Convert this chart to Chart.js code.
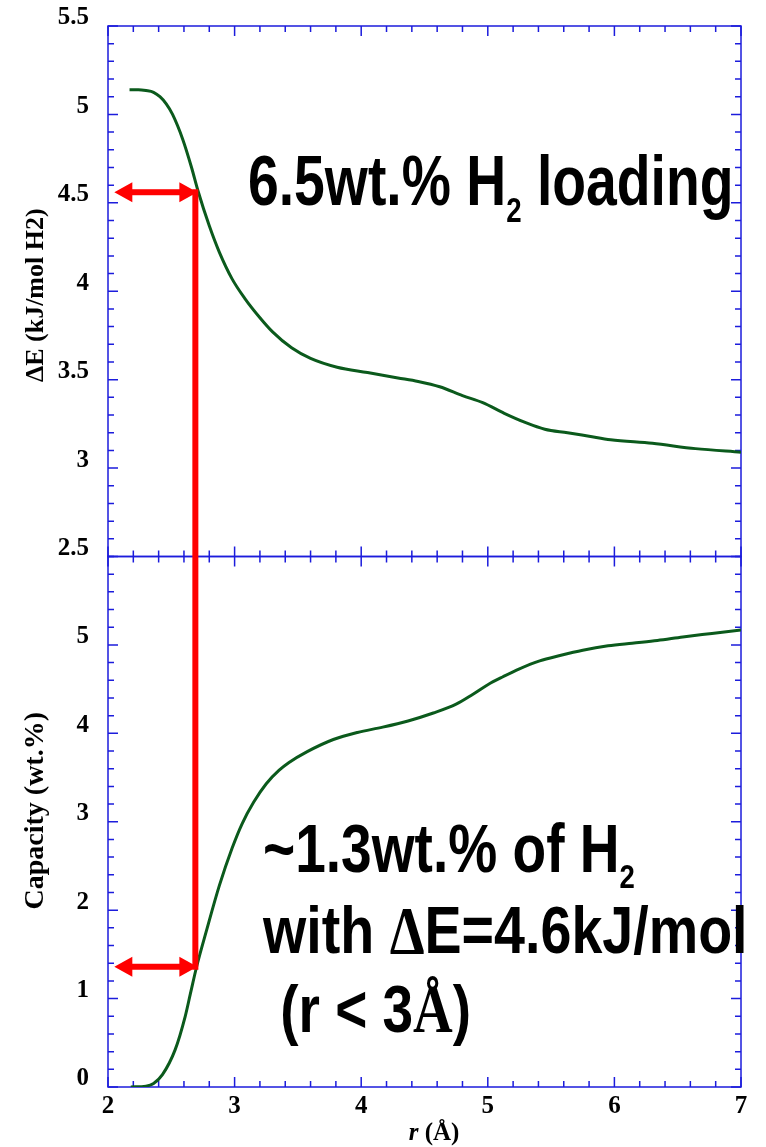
<!DOCTYPE html>
<html>
<head>
<meta charset="utf-8">
<script src="https://cdn.jsdelivr.net/npm/chart.js@4.4.1/dist/chart.umd.min.js"></script>
<style>
    html, body { margin: 0; padding: 0; background: #fff; }
    #wrap { width: 766px; height: 1147px; }
</style>
</head>
<body>
<div id="wrap"><canvas id="chart" width="766" height="1147"></canvas></div>
<script>
// Upper panel: binding energy vs r
const rEnergy = [2.17, 2.24, 2.30, 2.36, 2.41, 2.46, 2.51, 2.59, 2.66, 2.71, 2.80, 2.88, 2.98, 3.08, 3.20, 3.30, 3.45, 3.60, 3.81, 4.05, 4.29, 4.45, 4.62, 4.80, 4.96, 5.13, 5.29, 5.45, 5.63, 5.80, 5.97, 6.30, 6.64, 7.00];
const energy = [5.14, 5.14, 5.135, 5.125, 5.10, 5.06, 5.00, 4.86, 4.70, 4.57, 4.37, 4.22, 4.07, 3.96, 3.85, 3.77, 3.68, 3.62, 3.57, 3.54, 3.51, 3.49, 3.46, 3.41, 3.37, 3.31, 3.26, 3.22, 3.20, 3.18, 3.16, 3.14, 3.11, 3.09];

// Lower panel: capacity vs r
const rCapacity = [2.18, 2.30, 2.36, 2.43, 2.53, 2.61, 2.65, 2.70, 2.78, 2.88, 2.98, 3.06, 3.15, 3.25, 3.35, 3.43, 3.57, 3.78, 3.97, 4.17, 4.37, 4.57, 4.75, 4.88, 5.00, 5.12, 5.25, 5.41, 5.57, 5.75, 5.95, 6.14, 6.34, 6.54, 6.77, 7.00];
const capacity = [0.00, 0.01, 0.04, 0.14, 0.42, 0.80, 1.05, 1.36, 1.78, 2.28, 2.70, 2.98, 3.22, 3.43, 3.58, 3.67, 3.79, 3.93, 4.01, 4.07, 4.14, 4.23, 4.33, 4.44, 4.55, 4.64, 4.73, 4.82, 4.88, 4.94, 4.99, 5.02, 5.05, 5.09, 5.13, 5.17];

// Tick labels
const xLabels = [2, 3, 4, 5, 6, 7];
const energyLabels = [2.5, 3, 3.5, 4, 4.5, 5, 5.5];
const capacityLabels = [0, 1, 2, 3, 4, 5];

// Marked point (r, energy, capacity) and arrow start
const markR = 2.69;
const markEnergy = 4.56;
const markCapacity = 1.36;
const arrowStartR = 2.05;

const SANS = '"Liberation Sans", Arial, sans-serif';
const SERIF = '"Liberation Serif", "Times New Roman", serif';
const FRAME = "#1c1cdc";
const GREEN = "#0b5a1c";
const RED = "#ff0000";

function hasLabel(list, v) {
    return list.some((t) => Math.abs(t - v) < 1e-6);
}

function drawRuns(ctx, x, y, runs, sx) {
    ctx.save();
    ctx.translate(x, y);
    ctx.scale(sx, 1);
    ctx.fillStyle = "#000";
    ctx.textAlign = "left";
    ctx.textBaseline = "alphabetic";
    let cx = 0;
    runs.forEach((r) => {
        ctx.font = r.font;
        ctx.fillText(r.text, cx, r.dy || 0);
        cx += ctx.measureText(r.text).width;
    });
    ctx.restore();
}

function runsWidth(ctx, runs) {
    let w = 0;
    runs.forEach((r) => {
        ctx.font = r.font;
        w += ctx.measureText(r.text).width;
    });
    return w;
}

function drawDoubleArrow(ctx, x1, x2, y) {
    const head = 18;
    const half = 10;
    ctx.fillStyle = RED;
    ctx.fillRect(x1 + head - 1, y - 3, x2 - x1 - 2 * head + 2, 6);
    ctx.beginPath();
    ctx.moveTo(x1, y);
    ctx.lineTo(x1 + head, y - half);
    ctx.lineTo(x1 + head, y + half);
    ctx.closePath();
    ctx.moveTo(x2, y);
    ctx.lineTo(x2 - head, y - half);
    ctx.lineTo(x2 - head, y + half);
    ctx.closePath();
    ctx.fill();
}

// Box with inward ticks on every side of both panels
const frame = {
    id: "frame",
    beforeDatasetsDraw(chart) {
        const { ctx } = chart;
        const { x, yTop, yBot } = chart.scales;
        ctx.save();
        ctx.strokeStyle = FRAME;
        ctx.lineWidth = 1.5;
        [[yTop, energyLabels], [yBot, capacityLabels]].forEach(([y, labels]) => {
            ctx.strokeRect(x.left, y.top, x.right - x.left, y.bottom - y.top);
            ctx.beginPath();
            y.ticks.forEach((t) => {
                const p = y.getPixelForValue(t.value);
                const len = hasLabel(labels, t.value) ? 10 : 6;
                ctx.moveTo(x.left, p);
                ctx.lineTo(x.left + len, p);
                ctx.moveTo(x.right, p);
                ctx.lineTo(x.right - len, p);
            });
            x.ticks.forEach((t) => {
                const p = x.getPixelForValue(t.value);
                const len = hasLabel(xLabels, t.value) ? 10 : 6;
                ctx.moveTo(p, y.top);
                ctx.lineTo(p, y.top + len);
                ctx.moveTo(p, y.bottom);
                ctx.lineTo(p, y.bottom - len);
            });
            ctx.stroke();
        });
        ctx.restore();
    },
};

// Red markers, notes and axis titles
const notes = {
    id: "notes",
    afterDatasetsDraw(chart) {
        const { ctx } = chart;
        const { x, yTop, yBot } = chart.scales;
        const px = x.getPixelForValue(markR);
        const pTop = yTop.getPixelForValue(markEnergy);
        const pBot = yBot.getPixelForValue(markCapacity);
        const pStart = x.getPixelForValue(arrowStartR);

        ctx.save();
        ctx.fillStyle = RED;
        ctx.fillRect(px - 3, pTop - 3, 6, pBot - pTop + 6);
        drawDoubleArrow(ctx, pStart, px + 2, pTop);
        drawDoubleArrow(ctx, pStart, px + 2, pBot);

        drawRuns(ctx, 248, 205, [
            { text: "6.5wt.% H", font: `bold 70px ${SANS}` },
            { text: "2", font: `bold 35px ${SANS}`, dy: 17 },
            { text: " loading", font: `bold 70px ${SANS}` },
        ], 0.79);

        drawRuns(ctx, 263, 872, [
            { text: "~1.3wt.% of H", font: `bold 68px ${SANS}` },
            { text: "2", font: `bold 34px ${SANS}`, dy: 16 },
        ], 0.81);
        drawRuns(ctx, 263, 953, [
            { text: "with ", font: `bold 67px ${SANS}` },
            { text: "\u0394", font: `bold 67px ${SERIF}` },
            { text: "E=4.6kJ/mol", font: `bold 67px ${SANS}` },
        ], 0.83);
        drawRuns(ctx, 265, 1032, [
            { text: " (r < 3", font: `bold 67px ${SANS}` },
            { text: "\u00c5", font: `bold 67px ${SERIF}` },
            { text: ")", font: `bold 67px ${SANS}` },
        ], 0.82);

        // x title
        const xRuns = [
            { text: "r", font: `italic bold 25px ${SERIF}` },
            { text: " (\u00c5)", font: `bold 25px ${SERIF}` },
        ];
        drawRuns(ctx, 434 - runsWidth(ctx, xRuns) / 2, 1140, xRuns, 1);

        // y titles
        [["\u0394E (kJ/mol H2)", 26, (yTop.top + yTop.bottom) / 2 + 4],
         ["Capacity (wt.%)", 28, (yBot.top + yBot.bottom) / 2 - 11]].forEach(([text, size, cy]) => {
            ctx.save();
            ctx.translate(36, cy);
            ctx.rotate(-Math.PI / 2);
            ctx.font = `bold ${size}px ${SERIF}`;
            ctx.fillStyle = "#000";
            ctx.textAlign = "center";
            ctx.textBaseline = "middle";
            ctx.fillText(text, 0, 0);
            ctx.restore();
        });
        ctx.restore();
    },
};

const tickFont = { family: '"Liberation Serif", "Times New Roman", serif', weight: "bold", size: 25 };

const yScale = (min, max, step, labels) => ({
    type: "linear",
    position: "left",
    stack: "panels",
    stackWeight: 1,
    min,
    max,
    grid: { display: false },
    border: { display: false },
    ticks: {
        stepSize: step,
        autoSkip: false,
        padding: 11,
        labelOffset: -8,
        color: "#000",
        font: tickFont,
        callback: (v) => (hasLabel(labels, v) ? String(Math.round(v * 10) / 10) : ""),
    },
    afterFit(scale) {
        scale.width = 108;
    },
});

new Chart(document.getElementById("chart").getContext("2d"), {
    type: "line",
    data: {
        datasets: [
            {
                data: rEnergy.map((r, i) => ({ x: r, y: energy[i] })),
                yAxisID: "yTop",
                borderColor: GREEN,
                borderWidth: 3,
                pointRadius: 0,
                cubicInterpolationMode: "monotone",
            },
            {
                data: rCapacity.map((r, i) => ({ x: r, y: capacity[i] })),
                yAxisID: "yBot",
                borderColor: GREEN,
                borderWidth: 3,
                pointRadius: 0,
                cubicInterpolationMode: "monotone",
            },
        ],
    },
    options: {
        responsive: false,
        animation: false,
        layout: { padding: { top: 25, right: 25, left: 0, bottom: 0 } },
        plugins: { legend: { display: false }, tooltip: { enabled: false } },
        scales: {
            x: {
                type: "linear",
                min: 2,
                max: 7,
                grid: { display: false },
                border: { display: false },
                ticks: {
                    stepSize: 0.2,
                    autoSkip: false,
                    maxRotation: 0,
                    padding: -3,
                    color: "#000",
                    font: tickFont,
                    callback: (v) => (hasLabel(xLabels, v) ? String(Math.round(v)) : ""),
                },
                afterFit(scale) {
                    scale.height = 60;
                },
            },
            // the stack is laid out bottom first
            yBot: yScale(0, 6, 0.2, capacityLabels),
            yTop: yScale(2.5, 5.5, 0.1, energyLabels),
        },
    },
    plugins: [frame, notes],
});
</script>
</body>
</html>
